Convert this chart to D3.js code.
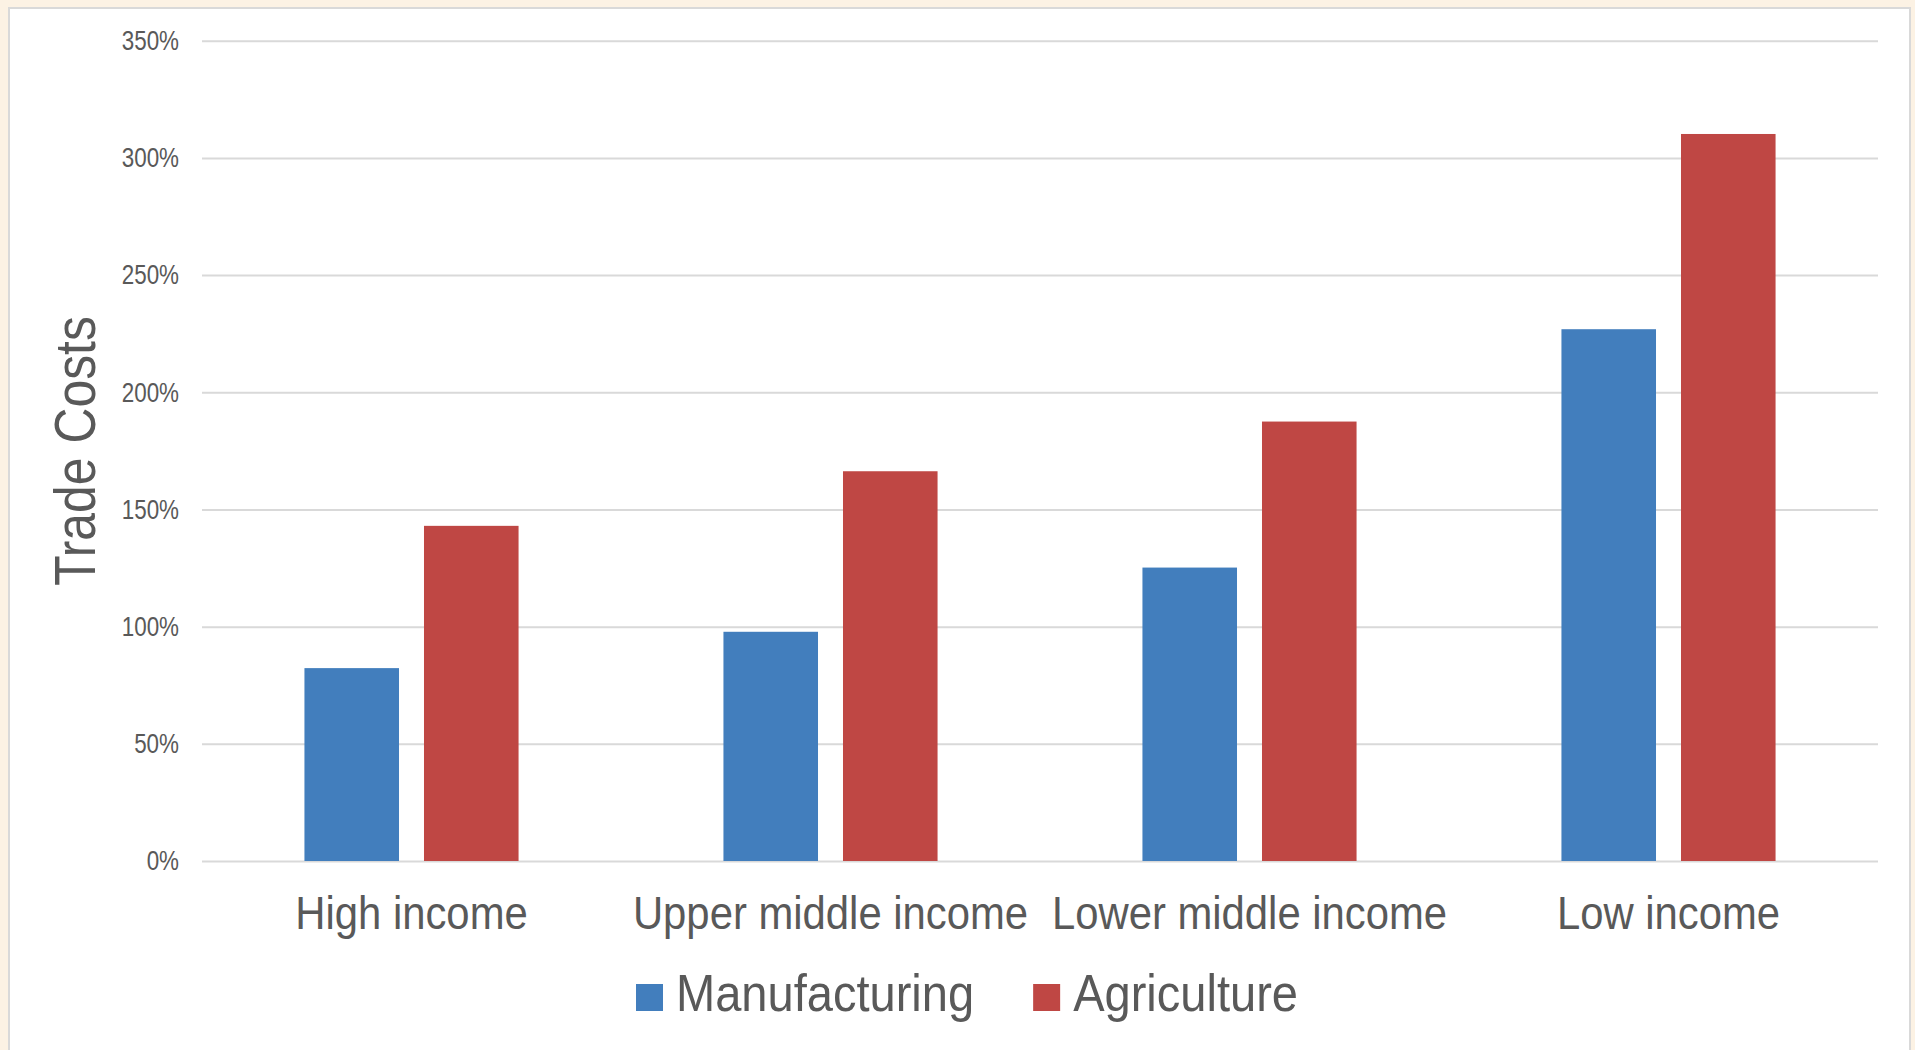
<!DOCTYPE html>
<html>
<head>
<meta charset="utf-8">
<script src="https://cdn.jsdelivr.net/npm/d3@7"></script>
<style>
  html, body { margin: 0; padding: 0; background: #FCF2E4; }
  svg { display: block; }
  text { font-family: "Liberation Sans Narrow", "Liberation Sans", Arial, sans-serif; fill: #595959; }
</style>
</head>
<body>
<svg id="chart" width="1915" height="1050"></svg>
<script>
const categories = ["High income", "Upper middle income", "Lower middle income", "Low income"];
const seriesNames = ["Manufacturing", "Agriculture"];
const manufacturing = [82.3, 97.8, 125.2, 226.9];
const agriculture = [143.0, 166.3, 187.5, 310.2];
const yTicks = [0, 50, 100, 150, 200, 250, 300, 350];
const colors = ["#427EBD", "#BF4744"];
const yTitle = "Trade Costs";

const seriesValues = [manufacturing, agriculture];
const svg = d3.select("#chart");
const FONT = "'Liberation Sans', Arial, sans-serif";

// panel
svg.append("rect").attr("x", 9).attr("y", 8).attr("width", 1901).attr("height", 1060)
  .attr("fill", "#fff").attr("stroke", "#D9D9D9").attr("stroke-width", 2);

const plotLeft = 202, plotRight = 1878, plotTop = 40.7, plotBottom = 861;

const x = d3.scaleBand().domain(categories).range([plotLeft, plotRight]).paddingInner(0.489).paddingOuter(0.2445);
const xs = d3.scaleBand().domain(seriesNames).range([0, x.bandwidth()]).paddingInner(0.209);
const y = d3.scaleLinear().domain([0, 350]).range([plotBottom, plotTop]);

// gridlines + y tick labels
const yAxis = d3.axisLeft(y).tickValues(yTicks).tickSize(-(plotRight - plotLeft)).tickPadding(23)
  .tickFormat(d => d + "%");
const ga = svg.append("g").attr("transform", `translate(${plotLeft},0)`).call(yAxis);
ga.select(".domain").remove();
ga.selectAll(".tick line").attr("stroke", "#D9D9D9").attr("stroke-width", 2);
ga.selectAll(".tick text").attr("font-size", 27).attr("fill", "#5E5E5E")
  .attr("font-family", FONT)
  .attr("x", 0).attr("dy", "0.33em")
  .attr("transform", "translate(-23,0) scale(0.83,1)");

// bars
const groups = svg.append("g").selectAll("g").data(categories).join("g")
  .attr("transform", d => `translate(${x(d)},0)`);
groups.selectAll("rect").data((c, i) => seriesNames.map((s, j) => ({ s, v: seriesValues[j][i], j })))
  .join("rect")
  .attr("x", d => xs(d.s))
  .attr("width", xs.bandwidth())
  .attr("y", d => y(d.v))
  .attr("height", d => y(0) - y(d.v))
  .attr("fill", d => colors[d.j]);

// x labels
const xAxis = d3.axisBottom(x).tickSize(0).tickPadding(0);
const gx = svg.append("g").attr("transform", `translate(0,${plotBottom})`).call(xAxis);
gx.select(".domain").remove();
gx.selectAll(".tick text").attr("font-size", 47).attr("fill", "#5E5E5E")
  .attr("font-family", FONT)
  .attr("dy", null).attr("y", 0)
  .attr("transform", "translate(0,68) scale(0.89,1)");

// y title
svg.append("text").attr("transform", "translate(95,451) rotate(-90) scale(0.86,1)")
  .attr("text-anchor", "middle").attr("font-size", 58).attr("font-family", FONT)
  .attr("fill", "#5E5E5E").text(yTitle);

// legend
const leg = svg.append("g");
let lx = 636;
const legScale = 0.905;
seriesNames.forEach((s, j) => {
  leg.append("rect").attr("x", lx).attr("y", 984).attr("width", 27).attr("height", 27).attr("fill", colors[j]);
  const t = leg.append("text").attr("transform", `translate(${lx + 40},1011) scale(${legScale},1)`)
    .attr("font-size", 52).attr("font-family", FONT).attr("fill", "#5E5E5E").text(s);
  lx = lx + 40 + t.node().getComputedTextLength() * legScale + 59;
});
</script>
</body>
</html>
